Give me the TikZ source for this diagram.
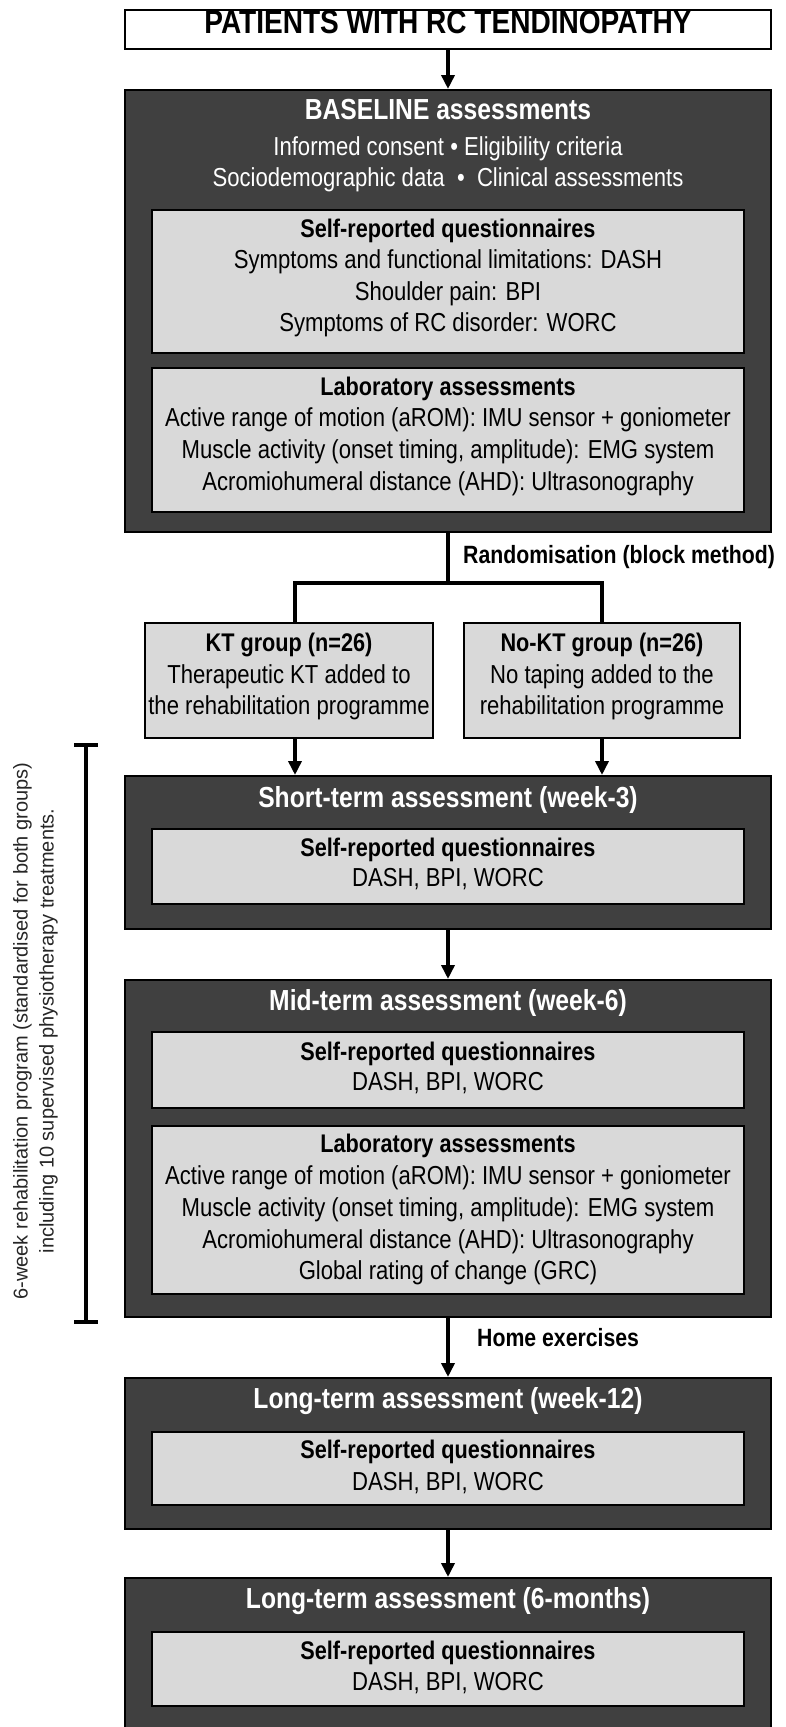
\documentclass[tikz,border=0pt]{standalone}
\usepackage{fontspec}
\setmainfont{Liberation Sans}[FakeStretch=0.85]
\newfontfamily\sidefont{Liberation Sans}
\usetikzlibrary{arrows.meta}
\definecolor{darkfill}{HTML}{404040}
\definecolor{lightfill}{HTML}{D9D9D9}
\begin{document}
\begin{tikzpicture}[x=1pt,y=-1pt,
  darkbox/.style={draw=black, line width=2pt, fill=darkfill, inner sep=0pt},
  lightbox/.style={draw=black, line width=2pt, fill=lightfill, inner sep=0pt},
  whitebox/.style={draw=black, line width=2pt, fill=white, inner sep=0pt},
  txt/.style={inner sep=0pt, text height=0.716em, text depth=0pt},
  toptitle/.style={txt, font=\fontsize{33}{38}\selectfont\bfseries},
  ttl/.style={txt, text=white, font=\fontsize{29}{34}\selectfont\bfseries},
  sub/.style={txt, text=white, font=\fontsize{26}{31}\selectfont},
  ibold/.style={txt, font=\fontsize{25.5}{30}\selectfont\bfseries},
  ibody/.style={txt, font=\fontsize{26}{31}\selectfont},
  lbl/.style={txt, anchor=west, font=\fontsize{25}{30}\selectfont\bfseries},
  side/.style={txt, rotate=90, text=black!85, font=\fontsize{20}{24}\sidefont},
  conn/.style={line width=3.5pt},
  arr/.style={line width=3.5pt, -{Triangle[length=14pt,width=13pt]}},
]
\useasboundingbox (0,0) rectangle (786,1727);

% top box
\node[whitebox, minimum width=646pt, minimum height=39pt] (top) at (448,29) {};
\node[toptitle] (topT) at (448,30) {PATIENTS WITH RC TENDINOPATHY};

% baseline
\node[darkbox, minimum width=646pt, minimum height=442pt] (base) at (448,311) {};
\node[ttl] (baseT) at (448,116) {BASELINE assessments};
\node[sub] (baseS1) at (448,152) {Informed consent \textbullet\ Eligibility criteria};
\node[sub] (baseS2) at (448,183) {Sociodemographic data \ \textbullet\ \ Clinical assessments};
\node[lightbox, minimum width=592pt, minimum height=143pt] (baseQ) at (448,281.5) {};
\node[ibold] (baseQT) at (448,234) {Self-reported questionnaires};
\node[ibody] (baseQ1) at (448,265) {Symptoms and functional limitations: DASH};
\node[ibody] (baseQ2) at (448,297) {Shoulder pain: BPI};
\node[ibody] (baseQ3) at (448,328) {Symptoms of RC disorder: WORC};
\node[lightbox, minimum width=592pt, minimum height=144pt] (baseL) at (448,440) {};
\node[ibold] (baseLT) at (448,392) {Laboratory assessments};
\node[ibody] (baseL1) at (448,423) {Active range of motion (aROM): IMU sensor + goniometer};
\node[ibody] (baseL2) at (448,455) {Muscle activity (onset timing, amplitude): EMG system};
\node[ibody] (baseL3) at (448,487) {Acromiohumeral distance (AHD): Ultrasonography};

% randomisation
\coordinate (split) at (448,583);
\node[lbl] (rand) at (463,560) {Randomisation (block method)};

% groups
\node[lightbox, minimum width=288pt, minimum height=115pt] (kt) at (289,680.5) {};
\node[ibold] (ktT) at (289,648) {KT group (n=26)};
\node[ibody] (kt1) at (289,680) {Therapeutic KT added to};
\node[ibody] (kt2) at (289,711) {the rehabilitation programme};
\node[lightbox, minimum width=276pt, minimum height=115pt] (nokt) at (602,680.5) {};
\node[ibold] (noktT) at (602,648) {No-KT group (n=26)};
\node[ibody] (nokt1) at (602,680) {No taping added to the};
\node[ibody] (nokt2) at (602,711) {rehabilitation programme};
\coordinate (ktTop) at ([xshift=6pt]kt.north);
\coordinate (ktBot) at ([xshift=6pt]kt.south);

% short-term
\node[darkbox, minimum width=646pt, minimum height=153pt] (short) at (448,852.5) {};
\node[ttl] (shortT) at (448,804) {Short-term assessment (week-3)};
\node[lightbox, minimum width=592pt, minimum height=75pt] (shortQ) at (448,866.5) {};
\node[ibold] (shortQT) at (448,853) {Self-reported questionnaires};
\node[ibody] (shortQ1) at (448,883) {DASH, BPI, WORC};

% mid-term
\node[darkbox, minimum width=646pt, minimum height=337pt] (mid) at (448,1148.5) {};
\node[ttl] (midT) at (448,1007) {Mid-term assessment (week-6)};
\node[lightbox, minimum width=592pt, minimum height=76pt] (midQ) at (448,1070) {};
\node[ibold] (midQT) at (448,1057) {Self-reported questionnaires};
\node[ibody] (midQ1) at (448,1087) {DASH, BPI, WORC};
\node[lightbox, minimum width=592pt, minimum height=168pt] (midL) at (448,1210) {};
\node[ibold] (midLT) at (448,1149) {Laboratory assessments};
\node[ibody] (midL1) at (448,1181) {Active range of motion (aROM): IMU sensor + goniometer};
\node[ibody] (midL2) at (448,1213) {Muscle activity (onset timing, amplitude): EMG system};
\node[ibody] (midL3) at (448,1245) {Acromiohumeral distance (AHD): Ultrasonography};
\node[ibody] (midL4) at (448,1276) {Global rating of change (GRC)};

% bracket and side text
\coordinate (brT) at (86,745);
\coordinate (brB) at (86,1322);
\draw[conn] (brT) -- (brB);
\draw[conn] ([xshift=-12pt]brT) -- ([xshift=12pt]brT);
\draw[conn] ([xshift=-12pt]brB) -- ([xshift=12pt]brB);
\node[side] (side1) at (24,1031) {6-week rehabilitation program (standardised for both groups)};
\node[side] (side2) at (50,1031) {including 10 supervised physiotherapy treatments.};

% long-term week-12
\node[lbl] (home) at (477,1343) {Home exercises};
\node[darkbox, minimum width=646pt, minimum height=151pt] (w12) at (448,1453.5) {};
\node[ttl] (w12T) at (448,1405) {Long-term assessment (week-12)};
\node[lightbox, minimum width=592pt, minimum height=73pt] (w12Q) at (448,1468.5) {};
\node[ibold] (w12QT) at (448,1455) {Self-reported questionnaires};
\node[ibody] (w12Q1) at (448,1487) {DASH, BPI, WORC};

% long-term 6 months
\node[darkbox, minimum width=646pt, minimum height=156pt] (m6) at (448,1656) {};
\node[ttl] (m6T) at (448,1605) {Long-term assessment (6-months)};
\node[lightbox, minimum width=592pt, minimum height=74pt] (m6Q) at (448,1669) {};
\node[ibold] (m6QT) at (448,1656) {Self-reported questionnaires};
\node[ibody] (m6Q1) at (448,1687) {DASH, BPI, WORC};

% connectors
\draw[arr] (top.south) -- (base.north);
\draw[conn] (base.south) -- (split);
\draw[conn] (ktTop) |- (split) -| (nokt.north);
\draw[arr] (ktBot) -- (ktBot |- short.north);
\draw[arr] (nokt.south) -- (nokt.south |- short.north);
\draw[arr] (short.south) -- (mid.north);
\draw[arr] (mid.south) -- (w12.north);
\draw[arr] (w12.south) -- (m6.north);
\end{tikzpicture}
\end{document}
